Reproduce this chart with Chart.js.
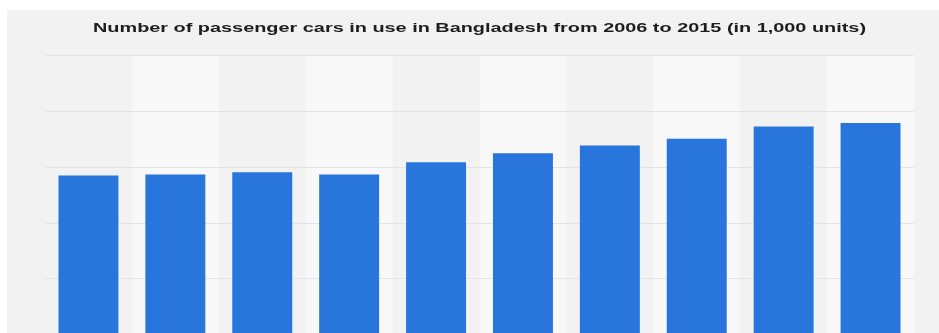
<!DOCTYPE html>
<html>
<head>
<meta charset="utf-8">
<script src="https://cdn.jsdelivr.net/npm/chart.js@4/dist/chart.umd.min.js"></script>
<style>
  html, body { margin: 0; padding: 0; background: #ffffff; overflow: hidden; width: 939px; height: 333px; }
  #wrap { position: absolute; left: 7px; top: 10px; width: 932px; height: 400px; background: #f2f2f2; }
</style>
</head>
<body>
<div id="wrap"><canvas id="c"></canvas></div>
<script>
const titleText = "Number of passenger cars in use in Bangladesh from 2006 to 2015 (in 1,000 units)";
const years = ["2006", "2007", "2008", "2009", "2010", "2011", "2012", "2013", "2014", "2015"];
const carsInUse = [192, 193, 195, 193, 204, 212, 219, 225, 236, 239];
const yTicks = [0, 50, 100, 150, 200, 250, 300];

const stripes = {
  id: 'stripes',
  beforeDatasetsDraw(chart) {
    const { ctx, chartArea, scales } = chart;
    const x = scales.x;
    const half = (x.getPixelForValue(1) - x.getPixelForValue(0)) / 2;
    ctx.save();
    years.forEach((_, i) => {
      if (i % 2 === 1) {
        const cx = x.getPixelForValue(i);
        ctx.fillStyle = '#f8f8f8';
        ctx.fillRect(cx - half, chartArea.top, half * 2, chartArea.bottom - chartArea.top);
      }
    });
    ctx.strokeStyle = '#e4e4e4';
    ctx.lineWidth = 1;
    yTicks.forEach(v => {
      const py = Math.round(scales.y.getPixelForValue(v)) + 0.5;
      ctx.beginPath();
      ctx.moveTo(chartArea.left, py);
      ctx.lineTo(chartArea.right, py);
      ctx.stroke();
    });
    ctx.restore();
  }
};

const wideTitle = {
  id: 'wideTitle',
  afterDraw(chart) {
    const { ctx, chartArea } = chart;
    ctx.save();
    ctx.font = 'bold 12px "Liberation Sans", Arial, sans-serif';
    ctx.fillStyle = '#1e1e1e';
    ctx.textAlign = 'center';
    ctx.textBaseline = 'alphabetic';
    const w = ctx.measureText(titleText).width;
    const sx = 773 / w;
    const cx = (chartArea.left + chartArea.right) / 2;
    ctx.translate(cx, 21.5);
    ctx.scale(sx, 1);
    ctx.fillText(titleText, 0, 0);
    ctx.restore();
  }
};

new Chart(document.getElementById('c'), {
  type: 'bar',
  data: {
    labels: years,
    datasets: [{
      data: carsInUse,
      backgroundColor: '#2876dc',
      borderWidth: 0,
      barPercentage: 0.69,
      categoryPercentage: 1.0
    }]
  },
  options: {
    responsive: true,
    maintainAspectRatio: false,
    animation: false,
    layout: { padding: { left: 38, right: 25, top: 45, bottom: 20 } },
    plugins: {
      legend: { display: false },
      tooltip: { enabled: false },
      title: { display: false }
    },
    scales: {
      x: {
        grid: { display: false, drawTicks: false },
        border: { display: false },
        ticks: { display: false }
      },
      y: {
        min: 0,
        max: 300,
        afterBuildTicks(axis) { axis.ticks = yTicks.map(v => ({ value: v })); },
        grid: { display: false, drawTicks: false },
        border: { display: false },
        ticks: { display: false }
      }
    }
  },
  plugins: [stripes, wideTitle]
});
</script>
</body>
</html>
